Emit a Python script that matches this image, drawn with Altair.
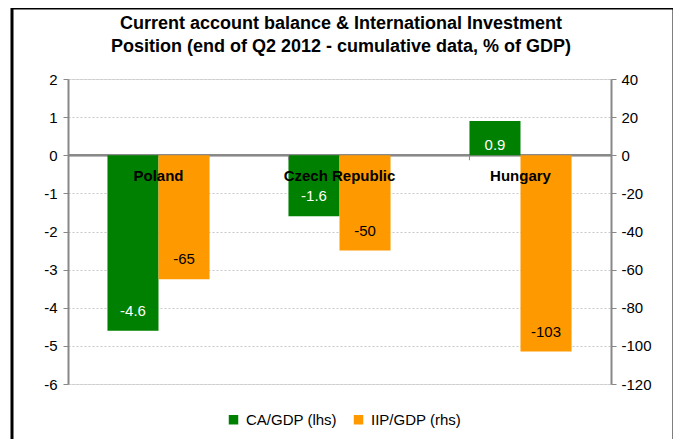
import altair as alt
import pandas as pd

countries = ["Poland", "Czech Republic", "Hungary"]
ca_gdp = [-4.6, -1.6, 0.9]
iip_gdp = [-65, -50, -103]
series = ["CA/GDP (lhs)", "IIP/GDP (rhs)"]
ca_labels = ["-4.6", "-1.6", "0.9"]
iip_labels = ["-65", "-50", "-103"]
left_ticks = [-6, -5, -4, -3, -2, -1, 0, 1, 2]
right_ticks = [-120, -100, -80, -60, -40, -20, 0, 20, 40]
title_lines = ["Current account balance & International Investment",
               "Position (end of Q2 2012 - cumulative data, % of GDP)"]

FONT = "Liberation Sans"
GREEN = "#008000"
ORANGE = "#FF9900"

ca_df = pd.DataFrame({"country": countries, "value": ca_gdp, "label": ca_labels, "series": series[0]})
iip_df = pd.DataFrame({"country": countries, "value": iip_gdp, "label": iip_labels, "series": series[1]})
cat_df = pd.DataFrame({"country": countries})
title_df = pd.DataFrame({"line": title_lines, "row": [0, 1]})

W, H = 543, 305

xscale = alt.Scale(domain=countries, paddingInner=0.436, paddingOuter=0.218)
xs = alt.X("country:N", sort=countries, axis=None, scale=xscale)
xo = alt.XOffset("series:N", scale=alt.Scale(domain=series, paddingInner=0, paddingOuter=0))
color = alt.Color("series:N", scale=alt.Scale(domain=series, range=[GREEN, ORANGE]),
                  legend=alt.Legend(title=None, orient="none", direction="horizontal",
                                    legendX=158, legendY=333, symbolType="square",
                                    symbolSize=90, symbolStrokeWidth=0, labelFont=FONT,
                                    labelFontSize=15, labelColor="#000", columnPadding=14,
                                    labelOffset=5))

lscale = alt.Scale(domain=[-6, 2], nice=False, zero=False)
rscale = alt.Scale(domain=[-120, 40], nice=False, zero=False)

left_axis = alt.Axis(values=left_ticks, orient="left", grid=True, gridColor="#c8c8c8",
                     gridDash=[2, 2], gridWidth=1, domainColor="#888", domainWidth=2,
                     tickColor="#888", tickSize=5, tickWidth=1, labelFont=FONT,
                     labelFontSize=15, labelColor="#000", labelPadding=6, title=None,
                     labelOverlap=False, labelExpr="'' + datum.value")
right_axis = alt.Axis(values=right_ticks, orient="right", grid=False, domainColor="#888",
                      domainWidth=2, tickColor="#888", tickSize=5, tickWidth=1,
                      labelFont=FONT, labelFontSize=15, labelColor="#000",
                      labelPadding=5, title=None, labelOverlap=False,
                      labelExpr="'' + datum.value")

zero = alt.Chart(cat_df).mark_rule(color="#888", strokeWidth=2).encode(
    y=alt.Y(datum=0, scale=lscale, axis=left_axis),
    x=alt.value(0), x2=alt.value(W))

sep = alt.Chart(cat_df.iloc[1:]).mark_rule(color="#888", strokeWidth=1).encode(
    x=alt.X("country:N", sort=countries, axis=None, bandPosition=0, scale=xscale),
    y=alt.Y(datum=0, scale=lscale, axis=left_axis), y2=alt.Y2(datum=-0.13))

ca_bars = alt.Chart(ca_df).mark_bar(stroke=None).encode(
    x=xs, xOffset=xo, y=alt.Y("value:Q", scale=lscale, axis=left_axis), y2=alt.Y2(datum=0),
    color=color)

ca_neg = alt.Chart(ca_df).transform_filter("datum.value < 0").mark_text(
    font=FONT, fontSize=15, color="white", dy=-20).encode(
    x=xs, xOffset=xo, y=alt.Y("value:Q", scale=lscale, axis=left_axis), text="label:N")
ca_pos = alt.Chart(ca_df).transform_filter("datum.value >= 0").mark_text(
    font=FONT, fontSize=15, color="white", dy=24).encode(
    x=xs, xOffset=xo, y=alt.Y("value:Q", scale=lscale, axis=left_axis), text="label:N")

left_group = alt.layer(zero, ca_bars, ca_neg, ca_pos, sep)

iip_bars = alt.Chart(iip_df).mark_bar(stroke=None).encode(
    x=xs, xOffset=xo, y=alt.Y("value:Q", scale=rscale, axis=right_axis), y2=alt.Y2(datum=0),
    color=color)
iip_text = alt.Chart(iip_df).mark_text(font=FONT, fontSize=15, color="black", dy=-20).encode(
    x=xs, xOffset=xo, y=alt.Y("value:Q", scale=rscale, axis=right_axis), text="label:N")
right_group = alt.layer(iip_bars, iip_text)

cat_text = alt.Chart(cat_df).mark_text(font=FONT, fontSize=15, fontWeight="bold",
                                       color="black", dy=21).encode(
    x=xs, y=alt.Y(datum=0, scale=lscale, axis=None), text="country:N")

title_text = alt.Chart(title_df).mark_text(font=FONT, fontSize=18, fontWeight="bold",
                                           color="black", align="center",
                                           baseline="middle").encode(
    x=alt.value(273),
    y=alt.Y("row:Q", scale=alt.Scale(domain=[0, 1], range=[-55, -32], nice=False, zero=False),
            axis=None),
    text="line:N")

border = alt.Chart(cat_df.iloc[:1]).mark_rect(fill=None, stroke="black", strokeWidth=3).encode(
    x=alt.value(-56), x2=alt.value(606), y=alt.value(-71), y2=alt.value(400))

chart = alt.layer(left_group, right_group, cat_text, title_text, border).resolve_scale(
    y="independent"
).properties(
    width=W, height=H,
    padding={"left": 60, "top": 71, "right": 62, "bottom": 55},
    autosize=alt.AutoSizeParams(type="none"),
).configure_view(stroke=None).configure(background="white")

chart.save("out.html", embed_options={"renderer": "svg", "actions": False})
